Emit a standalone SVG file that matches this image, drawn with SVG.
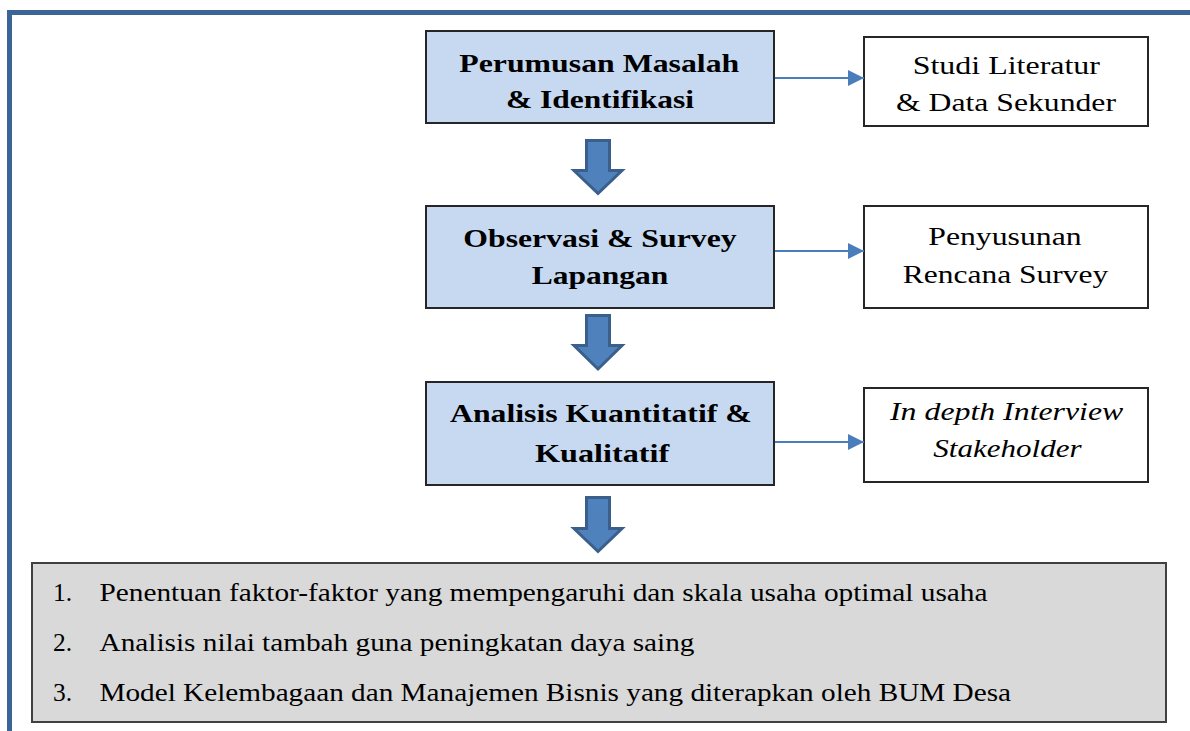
<svg xmlns="http://www.w3.org/2000/svg" width="1190" height="731" viewBox="0 0 1190 731">
<style>
.frame{fill:none;stroke:#3c6496;stroke-width:5}
.blue{fill:#c6d9f1;stroke:#262626;stroke-width:2}
.white{fill:#ffffff;stroke:#262626;stroke-width:2}
.grey{fill:#d9d9d9;stroke:#404040;stroke-width:2}
text{font-family:'Liberation Serif','Times New Roman',Tinos,Times,serif;fill:#000}
.bold{font-weight:bold;font-size:26px}
.reg{font-size:26px}
.ital{font-style:italic;font-size:26px}
.list{font-size:25.5px}
.conn{stroke:#4a7ebb;stroke-width:2;fill:none}
.big{fill:#4f81bd;stroke:#3a5f8b;stroke-width:3;stroke-linejoin:miter}
</style>
<defs>
<marker id="ah" markerUnits="userSpaceOnUse" markerWidth="16" markerHeight="16" refX="16" refY="8" orient="auto">
<path d="M0,0 L16,8 L0,16 Z" fill="#4a7ebb"/>
</marker>
</defs>
<rect width="1190" height="731" fill="#ffffff"/>
<rect class="frame" x="9.5" y="12.5" width="1200" height="800"/>

<g id="node-perumusan">
<rect class="blue" x="426" y="31" width="348" height="92"/>
<text class="bold" x="459.3" y="72" textLength="280" lengthAdjust="spacingAndGlyphs">Perumusan Masalah</text>
<text class="bold" x="506" y="108" textLength="188" lengthAdjust="spacingAndGlyphs">&amp; Identifikasi</text>
</g>
<g id="node-observasi">
<rect class="blue" x="426" y="206" width="348" height="102"/>
<text class="bold" x="463.3" y="247" textLength="273.3" lengthAdjust="spacingAndGlyphs">Observasi &amp; Survey</text>
<text class="bold" x="531.7" y="284" textLength="136.7" lengthAdjust="spacingAndGlyphs">Lapangan</text>
</g>
<g id="node-analisis">
<rect class="blue" x="426" y="382" width="348" height="103"/>
<text class="bold" x="450" y="422" textLength="301.7" lengthAdjust="spacingAndGlyphs">Analisis Kuantitatif &amp;</text>
<text class="bold" x="535" y="462" textLength="134.3" lengthAdjust="spacingAndGlyphs">Kualitatif</text>
</g>
<g id="node-studi">
<rect class="white" x="864" y="37" width="284" height="89"/>
<text class="reg" x="912.7" y="74" textLength="187.3" lengthAdjust="spacingAndGlyphs">Studi Literatur</text>
<text class="reg" x="896" y="111" textLength="220" lengthAdjust="spacingAndGlyphs">&amp; Data Sekunder</text>
</g>
<g id="node-penyusunan">
<rect class="white" x="864" y="206" width="284" height="102"/>
<text class="reg" x="928.3" y="245" textLength="153.3" lengthAdjust="spacingAndGlyphs">Penyusunan</text>
<text class="reg" x="902.7" y="283" textLength="205.7" lengthAdjust="spacingAndGlyphs">Rencana Survey</text>
</g>
<g id="node-interview">
<rect class="white" x="864" y="388" width="284" height="94"/>
<text class="ital" x="890" y="420" textLength="233.3" lengthAdjust="spacingAndGlyphs">In depth Interview</text>
<text class="ital" x="933.3" y="457" textLength="148.3" lengthAdjust="spacingAndGlyphs">Stakeholder</text>
</g>
<g id="node-hasil">
<rect class="grey" x="32" y="563" width="1134" height="159"/>
<text class="list" x="53" y="601">1.</text>
<text class="list" x="99.5" y="601" textLength="888" lengthAdjust="spacingAndGlyphs">Penentuan faktor-faktor yang mempengaruhi dan skala usaha optimal usaha</text>
<text class="list" x="53" y="651">2.</text>
<text class="list" x="99.5" y="651" textLength="595" lengthAdjust="spacingAndGlyphs">Analisis nilai tambah guna peningkatan daya saing</text>
<text class="list" x="53" y="701">3.</text>
<text class="list" x="99.5" y="701" textLength="911.5" lengthAdjust="spacingAndGlyphs">Model Kelembagaan dan Manajemen Bisnis yang diterapkan oleh BUM Desa</text>
</g>

<g id="connectors">
<line class="conn" x1="775" y1="78" x2="864" y2="78" marker-end="url(#ah)"/>
<line class="conn" x1="775" y1="251" x2="864" y2="251" marker-end="url(#ah)"/>
<line class="conn" x1="775" y1="442" x2="864" y2="442" marker-end="url(#ah)"/>
<polygon class="big" points="586.5,140.5 609.5,140.5 609.5,170.5 622,170.5 598,193.5 574,170.5 586.5,170.5"/>
<polygon class="big" points="586.5,315.5 609.5,315.5 609.5,345.5 622,345.5 598,369 574,345.5 586.5,345.5"/>
<polygon class="big" points="586.5,497.5 609.5,497.5 609.5,528.5 622,528.5 598,551.5 574,528.5 586.5,528.5"/>
</g>
</svg>
